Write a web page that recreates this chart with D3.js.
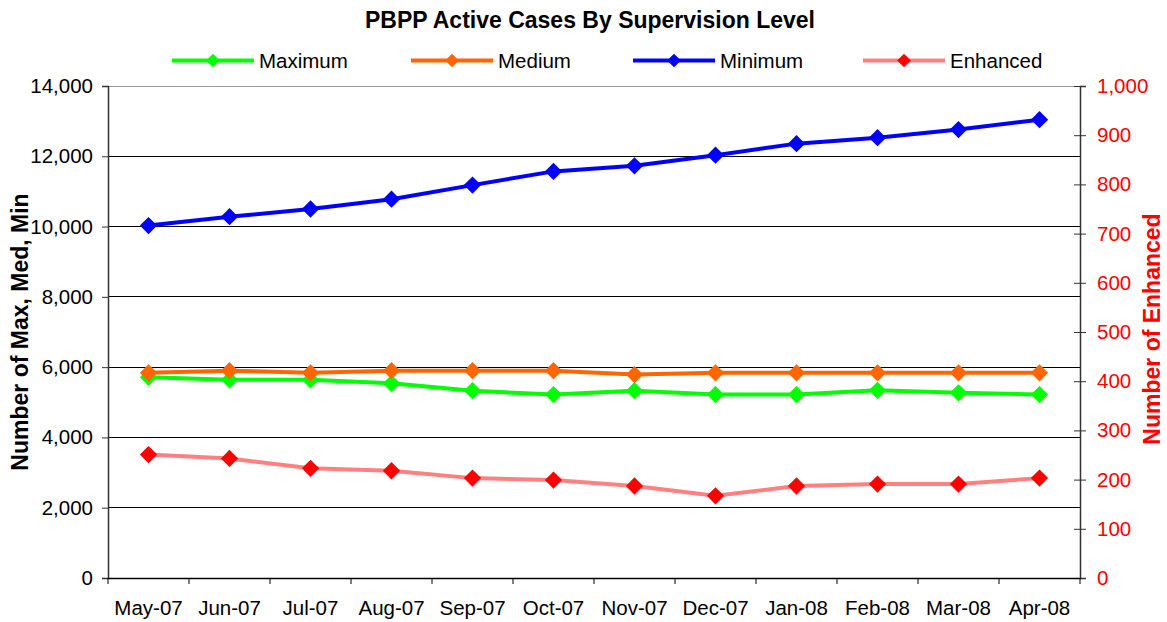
<!DOCTYPE html>
<html><head><meta charset="utf-8">
<script src="https://cdn.jsdelivr.net/npm/d3@7"></script>
<style>
body{margin:0;background:#fff;}
svg{display:block;font-family:"Liberation Sans",Arial,sans-serif;}
</style></head>
<body><svg id="chart" width="1167" height="622"></svg>
<script>
const categories = ["May-07","Jun-07","Jul-07","Aug-07","Sep-07","Oct-07","Nov-07","Dec-07","Jan-08","Feb-08","Mar-08","Apr-08"];
const maximum = [5710,5640,5640,5540,5330,5220,5330,5220,5220,5340,5270,5220];
const medium  = [5840,5900,5840,5900,5900,5900,5790,5840,5840,5840,5840,5840];
const minimum = [10030,10280,10500,10780,11180,11570,11730,12030,12360,12530,12760,13040];
const enhanced = [251,243,223,218,203,199,187,167,187,191,191,203];
const leftTicks = [0,2000,4000,6000,8000,10000,12000,14000];
const rightTicks = [0,100,200,300,400,500,600,700,800,900,1000];
const title = "PBPP Active Cases By Supervision Level";
const leftTitle = "Number of Max, Med, Min";
const rightTitle = "Number of Enhanced";

const series = [
  {name:"Maximum", values:maximum, line:"#00FF00", marker:"#00FF00", axis:"L"},
  {name:"Medium", values:medium, line:"#FF6600", marker:"#FF6600", axis:"L"},
  {name:"Minimum", values:minimum, line:"#0000FF", marker:"#0000FF", axis:"L"},
  {name:"Enhanced", values:enhanced, line:"#FF8080", marker:"#FF0000", axis:"R"}
];

const FS = 20.5;
const svg = d3.select("#chart");
const L = 108, R = 1080, T = 86, B = 578;
const x = d3.scaleBand().domain(categories).range([L, R]);
const yL = d3.scaleLinear().domain([0,14000]).range([B, T]);
const yR = d3.scaleLinear().domain([0,1000]).range([B, T]);

// gridlines
svg.append("g").selectAll("line").data(leftTicks.filter(d=>d>0 && d<14000)).join("line")
  .attr("x1", L).attr("x2", R).attr("y1", d=>yL(d)).attr("y2", d=>yL(d))
  .attr("stroke", "#000").attr("stroke-width", 1).attr("shape-rendering","crispEdges");
// top border
svg.append("line").attr("x1", L).attr("x2", R).attr("y1", yL(14000)).attr("y2", yL(14000))
  .attr("stroke", "#999").attr("shape-rendering","crispEdges");

// left axis
const gL = svg.append("g").attr("transform", `translate(${L},0)`)
  .call(d3.axisLeft(yL).tickValues(leftTicks).tickFormat(d3.format(",")).tickSizeOuter(0).tickSize(6).tickPadding(9));
gL.select(".domain").attr("stroke", "#333").attr("stroke-width", 1.5);
gL.selectAll(".tick line").attr("stroke", "#333");
gL.selectAll("text").attr("font-size", FS).attr("fill", "#000").attr("font-family","Liberation Sans, Arial, sans-serif");

// right axis
const gR = svg.append("g").attr("transform", `translate(${R},0)`)
  .call(d3.axisRight(yR).tickValues(rightTicks).tickFormat(d3.format(",")).tickSizeOuter(0).tickSize(6).tickPadding(11));
gR.select(".domain").attr("stroke", "#333").attr("stroke-width", 1.5);
gR.selectAll(".tick line").attr("x1", -6).attr("stroke", "#333");
gR.selectAll("text").attr("font-size", FS).attr("fill", "#FF0000").attr("font-family","Liberation Sans, Arial, sans-serif");

// bottom axis
const gB = svg.append("g").attr("transform", `translate(0,${B})`)
  .call(d3.axisBottom(x).tickSize(0).tickPadding(22).tickSizeOuter(0));
gB.select(".domain").attr("stroke", "#000").attr("stroke-width", 1.5);
gB.selectAll("text").attr("font-size", FS).attr("fill", "#000").attr("font-family","Liberation Sans, Arial, sans-serif");
const bounds = categories.map(c=>x(c)).concat([x(categories[categories.length-1]) + x.bandwidth()]);
gB.selectAll(".btick").data(bounds).join("line").attr("class","btick")
  .attr("x1", d=>d).attr("x2", d=>d).attr("y1", 0).attr("y2", 6).attr("stroke", "#000");

// lines and markers
const diamond = d3.symbol().type(d3.symbolDiamond2).size(190);
series.forEach(s => {
  const y = s.axis === "L" ? yL : yR;
  const line = d3.line().x((d,i)=>x(categories[i]) + x.bandwidth()/2).y(d=>y(d));
  svg.append("path").datum(s.values).attr("d", line)
    .attr("fill","none").attr("stroke", s.line).attr("stroke-width", 4).attr("stroke-linejoin","round");
  svg.append("g").selectAll("path").data(s.values).join("path")
    .attr("d", diamond)
    .attr("transform", (d,i)=>`translate(${x(categories[i]) + x.bandwidth()/2},${y(d)})`)
    .attr("fill", s.marker);
});

// title
svg.append("text").attr("x", 590).attr("y", 28).attr("text-anchor","middle")
  .attr("font-size", 23).attr("font-weight","bold").text(title);

// legend
const legX = [172, 411, 633, 863];
const lg = svg.append("g").selectAll("g").data(series).join("g")
  .attr("transform", (d,i)=>`translate(${legX[i]},60.5)`);
lg.append("line").attr("x1",0).attr("x2",82).attr("stroke", d=>d.line).attr("stroke-width", 4);
lg.append("path").attr("d", d3.symbol().type(d3.symbolDiamond2).size(120)).attr("transform","translate(41,0)").attr("fill", d=>d.marker);
lg.append("text").attr("x", 87).attr("y", 7.5).attr("font-size", FS).text(d=>d.name);

// axis titles
svg.append("text").attr("transform", `translate(28,${(T+B)/2}) rotate(-90)`).attr("text-anchor","middle")
  .attr("font-size", 23).attr("font-weight","bold").text(leftTitle);
svg.append("text").attr("transform", `translate(1160,${(T+B)/2 - 3}) rotate(-90)`).attr("text-anchor","middle")
  .attr("font-size", 23).attr("font-weight","bold").attr("fill","#FF0000").text(rightTitle);
</script></body></html>
